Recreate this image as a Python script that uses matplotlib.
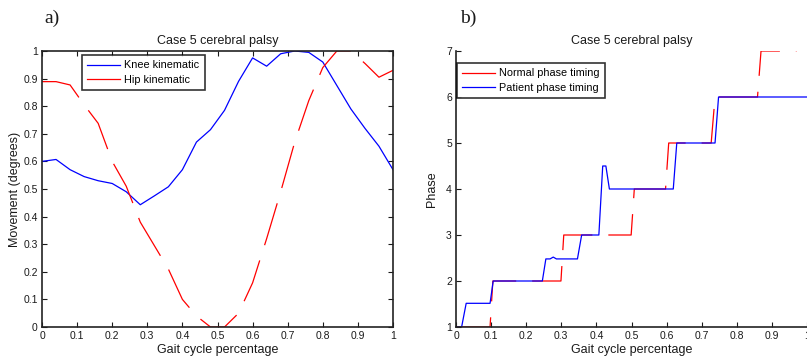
import matplotlib
matplotlib.use("Agg")
import matplotlib.pyplot as plt

# panel a) data
gait_x = [0.00, 0.04, 0.08, 0.12, 0.16, 0.20, 0.24, 0.28, 0.32, 0.36, 0.40, 0.44, 0.48,
          0.52, 0.56, 0.60, 0.64, 0.68, 0.72, 0.76, 0.80, 0.84, 0.88, 0.92, 0.96, 1.00]
knee = [0.600, 0.607, 0.570, 0.545, 0.530, 0.520, 0.490, 0.443, 0.475, 0.508, 0.570, 0.670, 0.715,
        0.785, 0.890, 0.975, 0.945, 0.990, 1.000, 0.995, 0.960, 0.875, 0.790, 0.720, 0.655, 0.570]
hip = [0.889, 0.889, 0.877, 0.805, 0.738, 0.600, 0.510, 0.380, 0.295, 0.210, 0.100, 0.040, 0.000,
       0.000, 0.050, 0.160, 0.320, 0.490, 0.670, 0.820, 0.940, 1.000, 1.000, 0.955, 0.905, 0.930]

# panel b) data
normal_x = [0, 0.097, 0.105, 0.299, 0.307, 0.499, 0.508, 0.597, 0.606, 0.727, 0.738, 0.859, 0.869, 0.97]
normal_y = [1, 1, 2, 2, 3, 3, 4, 4, 5, 5, 6, 6, 7, 7]
patient_x = [0, 0.016, 0.029, 0.097, 0.106, 0.246, 0.256, 0.268, 0.277, 0.286, 0.346, 0.358,
             0.407, 0.418, 0.427, 0.437, 0.619, 0.629, 0.738, 0.748, 1.0]
patient_y = [1, 1, 1.515, 1.515, 2, 2, 2.48, 2.48, 2.52, 2.48, 2.48, 3,
             3, 4.5, 4.5, 4, 4, 5, 5, 6, 6]

x_ticks = [0, 0.1, 0.2, 0.3, 0.4, 0.5, 0.6, 0.7, 0.8, 0.9, 1]
x_labels = ["0", "0.1", "0.2", "0.3", "0.4", "0.5", "0.6", "0.7", "0.8", "0.9", "1"]

plt.rcParams["font.family"] = ["Liberation Sans", "DejaVu Sans"]
plt.rcParams["lines.scale_dashes"] = False
DASH = (0, (31.5, 11.5))
TXT = "#1a1a1a"

fig = plt.figure(figsize=(8.07, 3.62), dpi=100)
W, H = 807.0, 362.0


def style_axes(ax):
    ax.set_xlim(0, 1)
    ax.set_xticks(x_ticks)
    ax.set_xticklabels(x_labels)
    ax.tick_params(direction="in", length=3.5, width=0.8, labelsize=7.5,
                   colors=TXT, pad=3)
    for s in ax.spines.values():
        s.set_linewidth(1.2)
        s.set_color("#222222")
    ax.set_xlabel("Gait cycle percentage", fontsize=9, color=TXT, labelpad=2)
    ax.set_title("Case 5 cerebral palsy", fontsize=9, color=TXT, pad=5)


def boxed_legend(ax, x, y):
    leg = ax.legend(loc="upper left", bbox_to_anchor=(x / W, 1 - y / H),
                    bbox_transform=fig.transFigure, borderaxespad=0, fontsize=7.8,
                    frameon=True, fancybox=False, handlelength=3.0, handletextpad=0.4,
                    labelspacing=0.4, borderpad=0.5)
    leg.get_frame().set_edgecolor("black")
    leg.get_frame().set_linewidth(1.2)
    for h in leg.get_lines():
        h.set_linestyle("-")
    return leg


# --- a) ---
ax1 = fig.add_axes([42 / W, 1 - 327 / H, 351 / W, 276 / H])
ax1.plot(gait_x, knee, color="#0000ff", lw=0.9, label="Knee kinematic")
ax1.plot(gait_x, hip, color="#ff0000", lw=0.9, linestyle=DASH, label="Hip kinematic")
style_axes(ax1)
ax1.set_ylim(0, 1)
ax1.set_yticks([0, 0.1, 0.2, 0.3, 0.4, 0.5, 0.6, 0.7, 0.8, 0.9, 1])
ax1.set_yticklabels(["0", "0.1", "0.2", "0.3", "0.4", "0.5", "0.6", "0.7", "0.8", "0.9", "1"])
ax1.tick_params(top=True, right=True)
ax1.set_ylabel("Movement (degrees)", fontsize=9, color=TXT, labelpad=2)
boxed_legend(ax1, 82, 55)

# --- b) ---
ax2 = fig.add_axes([456 / W, 1 - 327 / H, 351 / W, 276 / H])
ax2.plot(normal_x, normal_y, color="#ff0000", lw=0.9, linestyle=DASH, label="Normal phase timing")
ax2.plot(patient_x, patient_y, color="#0000ff", lw=0.9, label="Patient phase timing")
style_axes(ax2)
ax2.set_ylim(1, 7)
ax2.set_yticks([1, 2, 3, 4, 5, 6, 7])
ax2.spines["top"].set_visible(False)
ax2.spines["right"].set_visible(False)
ax2.set_ylabel("Phase", fontsize=9, color=TXT, labelpad=6)
boxed_legend(ax2, 457, 63)

fig.text(44 / W, 1 - 18 / H, "a)", fontsize=14, family="Liberation Serif", va="center", color=TXT)
fig.text(460 / W, 1 - 18 / H, "b)", fontsize=14, family="Liberation Serif", va="center", color=TXT)

fig.savefig("out.png", dpi=100)
